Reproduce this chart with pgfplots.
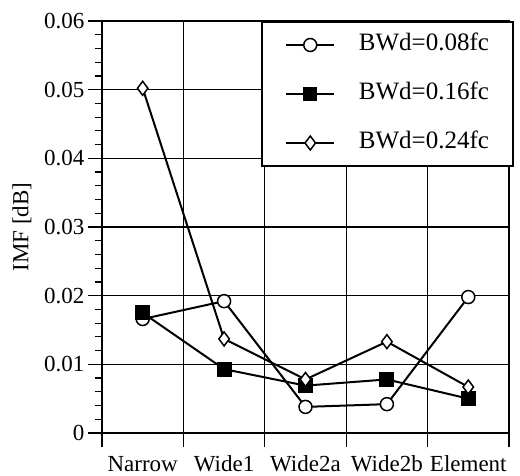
\documentclass[border=0pt]{standalone}
\usepackage{fontspec}
\setmainfont{Liberation Serif}
\usepackage{pgfplots}
\pgfplotsset{compat=1.18}
\begin{document}
\begin{tikzpicture}
\useasboundingbox (-102pt,-43pt) rectangle (418pt,433pt);
\begin{axis}[
  at={(0,0)}, anchor=south west,
  scale only axis, width=407pt, height=412pt,
  xmin=-0.5, xmax=4.5, ymin=0, ymax=0.06,
  xtick={-0.5,0.5,1.5,2.5,3.5,4.5}, xticklabels={},
  extra x ticks={0,1,2,3,4},
  extra x tick labels={Narrow,Wide1,Wide2a,Wide2b,Element},
  extra x tick style={major tick length=0pt, grid=none, xticklabel style={anchor=base, yshift=-39pt}},
  ytick={0,0.01,0.02,0.03,0.04,0.05,0.06},
  yticklabels={0,0.01,0.02,0.03,0.04,0.05,0.06},
  scaled y ticks=false,
  minor y tick num=4,
  grid=major, major grid style={black, line width=1.1pt},
  tick align=outside, tick pos=left,
  major tick length=14pt, minor tick length=7pt,
  every tick/.style={black, line width=1.2pt},
  axis line style={line width=2pt},
  tick label style={font=\fontsize{23}{26}\selectfont},
  label style={font=\fontsize{23}{26}\selectfont},
  ylabel={IMF [dB]},
  ylabel style={at={([xshift=-80pt]rel axis cs:0,0.5)}, anchor=center},
  legend style={at={([xshift=5pt]rel axis cs:1,1)}, anchor=north east,
    draw=black, line width=2pt, fill=white,
    font=\fontsize{25}{28}\selectfont,
    row sep=25pt, inner xsep=24pt, inner ysep=11pt,
    nodes={text height=18pt, text depth=6pt, inner ysep=0pt, inner xsep=0pt},
    /tikz/every odd column/.append style={column sep=24pt}},
  legend cell align=left,
  legend image code/.code={\draw[mark repeat=2,mark phase=2,#1,line width=1.4pt] plot coordinates {(0pt,0pt)(24pt,0pt)(48pt,0pt)};},
]
\addplot[black, line width=2pt, mark=*, mark size=6.5pt, mark options={fill=white, line width=1.5pt}]
  coordinates {(0,0.0166)(1,0.0192)(2,0.0038)(3,0.0042)(4,0.0198)};
\addlegendentry{BWd=0.08fc}
\addplot[black, line width=2pt, mark=square*, mark size=6.5pt, mark options={fill=black}]
  coordinates {(0,0.0175)(1,0.0093)(2,0.0069)(3,0.0078)(4,0.0050)};
\addlegendentry{BWd=0.16fc}
\addplot[black, line width=2pt, mark=diamond*, mark size=7pt, mark options={fill=white, line width=1.5pt}]
  coordinates {(0,0.0502)(1,0.0137)(2,0.0078)(3,0.0133)(4,0.0067)};
\addlegendentry{BWd=0.24fc}
\end{axis}
\end{tikzpicture}
\end{document}
